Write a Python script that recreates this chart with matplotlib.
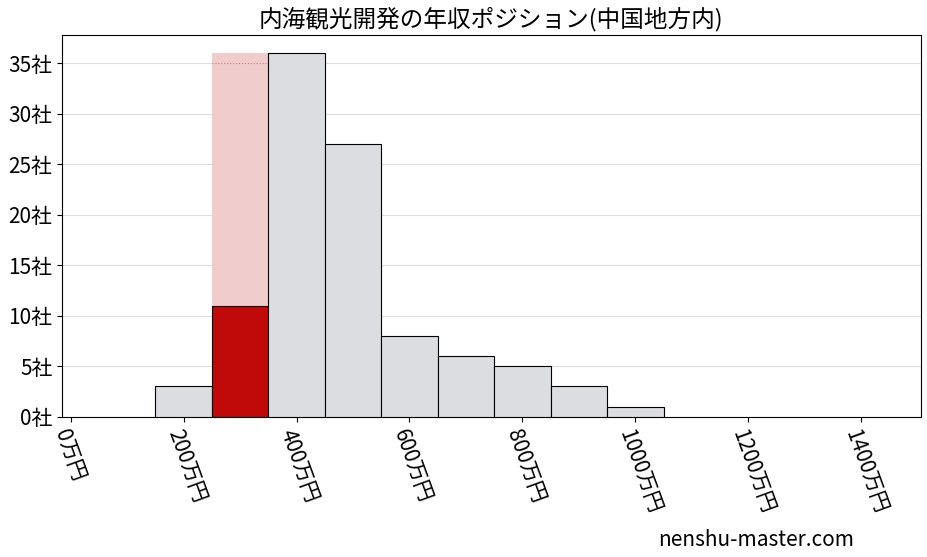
import matplotlib
matplotlib.use('Agg')
import matplotlib.pyplot as plt

plt.rcParams['font.family'] = ['Noto Sans CJK JP', 'DejaVu Sans']

centers = [200, 300, 400, 500, 600, 700, 800, 900, 1000]
counts = [3, 11, 36, 27, 8, 6, 5, 3, 1]
highlight_idx = 1
highlight_top = 36
xticks = [0, 200, 400, 600, 800, 1000, 1200, 1400]
yticks = [0, 5, 10, 15, 20, 25, 30, 35]

fig, ax = plt.subplots(figsize=(9.28, 5.57), dpi=100)
fig.subplots_adjust(left=0.067, right=0.992, top=0.937, bottom=0.252)

ax.bar(centers[highlight_idx], highlight_top, width=100, color='#f0cccc', zorder=1)
ax.plot([250, 350], [35, 35], ls=':', color='#d08080', lw=0.8, zorder=2)
colors = ['#c00a0a' if i == highlight_idx else '#dcdde0' for i in range(len(centers))]
ax.bar(centers, counts, width=100, color=colors, edgecolor='black', linewidth=0.8, zorder=3)

ax.set_xlim(-15, 1505)
ax.set_ylim(0, 37.8)
ax.set_xticks(xticks)
ax.set_xticklabels([f'{v}万円' for v in xticks], rotation=-70, ha='left', rotation_mode='anchor', fontsize=15)
ax.set_yticks(yticks)
ax.set_yticklabels([f'{v}社' for v in yticks], fontsize=15)
ax.grid(axis='y', color='#dddddd', lw=0.8, zorder=0)
ax.set_axisbelow(True)
ax.set_title('内海観光開発の年収ポジション(中国地方内)', fontsize=17)
fig.text(0.92, 0.02, 'nenshu-master.com', ha='right', fontsize=15)

fig.savefig('out.png')
